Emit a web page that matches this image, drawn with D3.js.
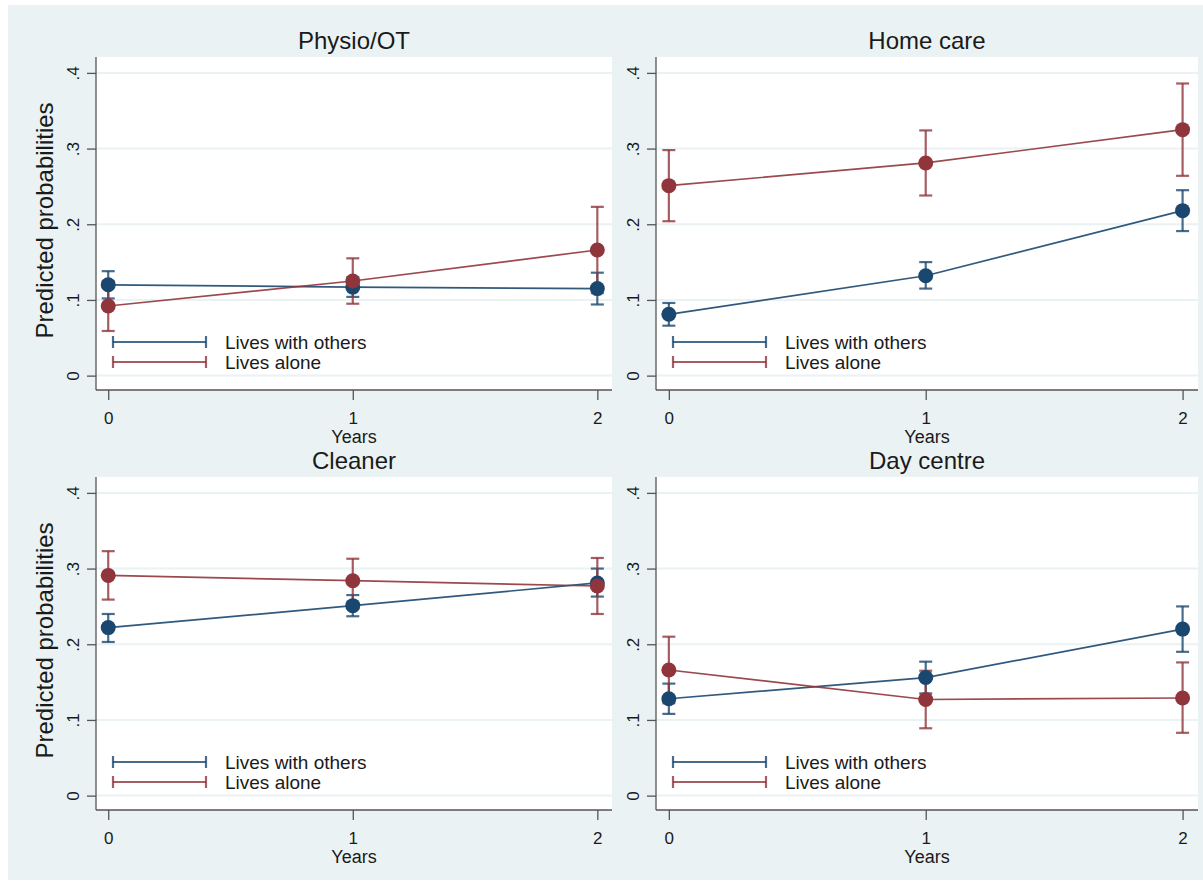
<!DOCTYPE html>
<html>
<head>
<meta charset="utf-8">
<script src="https://cdn.jsdelivr.net/npm/d3@7"></script>
<style>
  html, body { margin: 0; padding: 0; background: #ffffff; }
  svg { display: block; font-family: Arial, "Liberation Sans", sans-serif; }
</style>
</head>
<body>
<svg id="chart" width="1203" height="882"></svg>
<script>
// Service categories (one panel each) and follow-up years
const services = ["Physio/OT", "Home care", "Cleaner", "Day centre"];
const years = [0, 1, 2];
const groups = ["Lives with others", "Lives alone"];

// Predicted probabilities and 95% CI, lives with others
const withOthers   = [[0.120, 0.117, 0.115], [0.081, 0.132, 0.218], [0.222, 0.251, 0.281], [0.128, 0.156, 0.220]];
const withOthersLo = [[0.102, 0.104, 0.094], [0.066, 0.115, 0.191], [0.203, 0.237, 0.263], [0.108, 0.135, 0.190]];
const withOthersHi = [[0.138, 0.130, 0.136], [0.096, 0.150, 0.245], [0.240, 0.265, 0.300], [0.148, 0.177, 0.250]];

// Predicted probabilities and 95% CI, lives alone
const alone   = [[0.092, 0.125, 0.166], [0.251, 0.281, 0.325], [0.291, 0.284, 0.277], [0.166, 0.127, 0.129]];
const aloneLo = [[0.059, 0.095, 0.109], [0.204, 0.238, 0.264], [0.259, 0.255, 0.240], [0.122, 0.089, 0.083]];
const aloneHi = [[0.125, 0.155, 0.223], [0.298, 0.324, 0.386], [0.323, 0.313, 0.314], [0.210, 0.165, 0.176]];

// Axis ticks
const yTicks = [0, 0.1, 0.2, 0.3, 0.4];
const yTickLabels = ["0", ".1", ".2", ".3", ".4"];
const xTickLabels = ["0", "1", "2"];

const colors = ["#1a476f", "#90353b"];
const bg = "#eaf2f3";

const svg = d3.select("#chart");

// Graph region background
svg.append("rect").attr("x", 8).attr("y", 5).attr("width", 1195).attr("height", 875).attr("fill", bg);

// Plot boxes for the 2x2 layout
const boxes = [
  { left: 96,  right: 612,  top: 57,  bottom: 390, ylab: true },
  { left: 656, right: 1198, top: 57,  bottom: 390, ylab: false },
  { left: 96,  right: 612,  top: 477, bottom: 810, ylab: true },
  { left: 656, right: 1198, top: 477, bottom: 810, ylab: false }
];

boxes.forEach((b, p) => {
  const x = d3.scaleLinear().domain([-0.05, 2.06]).range([b.left, b.right]);
  const y = d3.scaleLinear().domain([-0.019, 0.421]).range([b.bottom, b.top]);
  const g = svg.append("g");

  // plot region
  g.append("rect").attr("x", b.left).attr("y", b.top)
    .attr("width", b.right - b.left).attr("height", b.bottom - b.top).attr("fill", "#ffffff");

  // gridlines
  g.selectAll("line.grid").data(yTicks).join("line").attr("class", "grid")
    .attr("x1", b.left).attr("x2", b.right)
    .attr("y1", d => y(d)).attr("y2", d => y(d))
    .attr("stroke", bg).attr("stroke-width", 2);

  // title
  g.append("text").attr("x", (b.left + b.right) / 2).attr("y", b.top - 8)
    .attr("text-anchor", "middle").attr("font-size", 24).attr("fill", "#1a1a1a")
    .text(services[p]);

  // y axis
  const ya = g.append("g").attr("transform", `translate(${b.left},0)`)
    .call(d3.axisLeft(y).tickValues(yTicks).tickSize(9).tickFormat((d, i) => yTickLabels[i]));
  ya.select(".domain").attr("d", `M0,${b.top}V${b.bottom}`).attr("stroke", "#555").attr("stroke-width", 1.3);
  ya.selectAll(".tick line").attr("stroke", "#555").attr("stroke-width", 1.3);
  ya.selectAll(".tick text")
    .attr("x", null).attr("dy", null)
    .attr("transform", "translate(-17,0) rotate(-90)")
    .attr("text-anchor", "middle").attr("font-size", 17).attr("fill", "#1a1a1a");

  // x axis
  const xa = g.append("g").attr("transform", `translate(0,${b.bottom})`)
    .call(d3.axisBottom(x).tickValues(years).tickSize(10).tickFormat((d, i) => xTickLabels[i]));
  xa.select(".domain").attr("d", `M${b.left},0H${b.right}`).attr("stroke", "#555").attr("stroke-width", 1.3);
  xa.selectAll(".tick line").attr("stroke", "#555").attr("stroke-width", 1.3);
  xa.selectAll(".tick text").attr("y", 34).attr("dy", null)
    .attr("font-size", 17).attr("fill", "#1a1a1a");

  g.append("text").attr("x", (b.left + b.right) / 2).attr("y", b.bottom + 53)
    .attr("text-anchor", "middle").attr("font-size", 18).attr("fill", "#1a1a1a").text("Years");

  if (b.ylab) {
    const cy = (b.top + b.bottom) / 2;
    g.append("text").attr("transform", `translate(53,${cy - 3}) rotate(-90)`)
      .attr("text-anchor", "middle").attr("font-size", 24).attr("fill", "#1a1a1a")
      .text("Predicted probabilities");
  }

  const series = [
    { est: withOthers[p], lo: withOthersLo[p], hi: withOthersHi[p] },
    { est: alone[p], lo: aloneLo[p], hi: aloneHi[p] }
  ];

  // confidence intervals
  series.forEach((s, k) => {
    const ci = g.append("g").attr("stroke", colors[k]).attr("stroke-width", 2.2)
      .attr("stroke-opacity", 0.8).attr("fill", "none");
    years.forEach((yr, i) => {
      const cx = x(yr);
      ci.append("line").attr("x1", cx).attr("x2", cx).attr("y1", y(s.lo[i])).attr("y2", y(s.hi[i]));
      ci.append("line").attr("x1", cx - 6.5).attr("x2", cx + 6.5).attr("y1", y(s.lo[i])).attr("y2", y(s.lo[i]));
      ci.append("line").attr("x1", cx - 6.5).attr("x2", cx + 6.5).attr("y1", y(s.hi[i])).attr("y2", y(s.hi[i]));
    });
  });

  // connected estimates
  series.forEach((s, k) => {
    const line = d3.line().x((d, i) => x(years[i])).y(d => y(d));
    g.append("path").attr("d", line(s.est)).attr("fill", "none")
      .attr("stroke", colors[k]).attr("stroke-width", 1.7).attr("stroke-opacity", 0.9);
    g.selectAll(null).data(s.est).join("circle")
      .attr("cx", (d, i) => x(years[i])).attr("cy", d => y(d)).attr("r", 7.5)
      .attr("fill", colors[k]);
  });

  // legend inside plot region
  const lg = g.append("g");
  groups.forEach((name, k) => {
    const ly = b.bottom - 48 + k * 20;
    const x1 = b.left + 17, x2 = b.left + 110;
    const sym = lg.append("g").attr("stroke", colors[k]).attr("stroke-width", 2.2).attr("stroke-opacity", 0.8);
    sym.append("line").attr("x1", x1).attr("x2", x2).attr("y1", ly).attr("y2", ly);
    sym.append("line").attr("x1", x1).attr("x2", x1).attr("y1", ly - 6).attr("y2", ly + 6);
    sym.append("line").attr("x1", x2).attr("x2", x2).attr("y1", ly - 6).attr("y2", ly + 6);
    lg.append("text").attr("x", b.left + 129).attr("y", ly + 6.5)
      .attr("font-size", 19).attr("fill", "#1a1a1a").text(name);
  });
});
</script>
</body>
</html>
